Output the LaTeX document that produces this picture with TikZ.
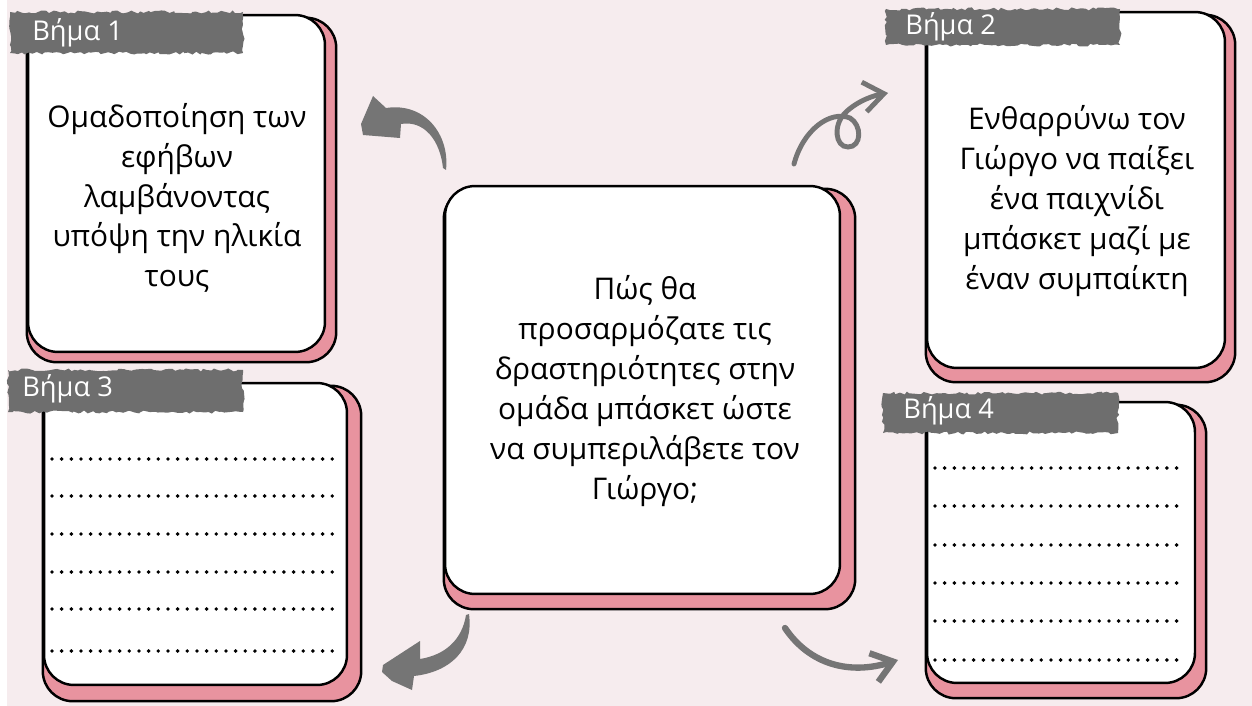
\documentclass[tikz,border=0pt]{standalone}
\usepackage{fontspec}
\setmainfont{Open Sans}
\usetikzlibrary{calc,arrows.meta,backgrounds,decorations.pathmorphing}

\definecolor{pagepink}{HTML}{F6ECEE}
\definecolor{shadowpink}{HTML}{E8939F}
\definecolor{brushgray}{HTML}{6E6E6E}
\definecolor{arrowgray}{HTML}{757575}

\tikzset{
  card/.style={draw=black, line width=1.4pt, fill=white, rounded corners=0.6cm, inner sep=0pt},
  cardshadow/.style={draw=black, line width=1.4pt, fill=shadowpink, rounded corners=0.6cm},
  cardtext/.style={align=center, font=\fontsize{17}{22.7}\selectfont},
  brush/.style={fill=brushgray, decorate, decoration={random steps, segment length=2pt, amplitude=0.9pt}},
  steplabel/.style={anchor=west, text=white, inner sep=0pt, font=\fontsize{15.5}{18}\selectfont},
  dotline/.style={line width=2.2pt, line cap=round, dash pattern=on 0pt off 5.5pt},
  fatarrow/.style={fill=arrowgray},
  thinarrow/.style={draw=arrowgray, line cap=round, -{Straight Barb[length=0.4cm, width=0.6cm]}}
}

\begin{document}
\begin{tikzpicture}[x=0.02cm, y=-0.02cm]
    \pgfmathsetseed{11}
    % page
    \useasboundingbox (0,0) rectangle (1252,706);
    \begin{scope}[on background layer]
      \fill[pagepink] (0,0) rectangle (1252,706);
      \fill[white] (0,0) rectangle (7,706);
    \end{scope}

    % the five cards
    \node[card, minimum width=5.94cm, minimum height=6.74cm] (stepone) at (176.5,183.5) {};
    \node[card, minimum width=5.96cm, minimum height=7.12cm] (steptwo) at (1076,190) {};
    \node[card, minimum width=6.06cm, minimum height=6.04cm] (stepthree) at (195.5,534) {};
    \node[card, minimum width=5.36cm, minimum height=5.62cm] (stepfour) at (1061,542.5) {};
    \node[card, minimum width=7.90cm, minimum height=8.16cm] (question) at (642.5,390) {};

    % pink shadows behind them
    \begin{scope}[on background layer]
      \draw[cardshadow] ($(stepone.north west)+(0,4)$) rectangle ($(stepone.south east)+(10,9)$);
      \draw[cardshadow] ($(steptwo.north west)+(0,4)$) rectangle ($(steptwo.south east)+(9,13)$);
      \draw[cardshadow] ($(stepthree.north west)+(0,4)$) rectangle ($(stepthree.south east)+(13,15)$);
      \draw[cardshadow] ($(stepfour.north west)+(0,4)$) rectangle ($(stepfour.south east)+(10,14)$);
      \draw[cardshadow] ($(question.north west)+(0,4)$) rectangle ($(question.south east)+(14,14)$);
    \end{scope}

    % texts
    \node[cardtext] (steponetext) at (177,198)
      {Ομαδοποίηση των\\εφήβων\\λαμβάνοντας\\υπόψη την ηλικία\\τους};
    \node[cardtext] (steptwotext) at (1077,201)
      {Ενθαρρύνω τον\\Γιώργο να παίξει\\ένα παιχνίδι\\μπάσκετ μαζί με\\έναν συμπαίκτη};
    \node[cardtext] (questiontext) at (645,391)
      {Πώς θα\\προσαρμόζατε τις\\δραστηριότητες στην\\ομάδα μπάσκετ ώστε\\να συμπεριλάβετε τον\\Γιώργο;};

    % dotted lines to write on
    \foreach \yy in {459,496,534,572,609,651}
      \draw[dotline] (52,\yy) -- (338,\yy);
    \foreach \yy in {468,506,545,583,621,660}
      \draw[dotline] (935,\yy) -- (1185,\yy);

    % brush labels
    \fill[brush] (10,12) rectangle (243,53);
    \node[steplabel] (labelone) at (32,33) {Βήμα 1};
    \fill[brush] (886,9) rectangle (1120,45);
    \node[steplabel] (labeltwo) at (905,27) {Βήμα 2};
    \fill[brush] (8,370) rectangle (243,412);
    \node[steplabel] (labelthree) at (22,389) {Βήμα 3};
    \fill[brush] (883,393) rectangle (1118,433);
    \node[steplabel] (labelfour) at (903,411) {Βήμα 4};

    % arrows
    \fill[fatarrow] (446,170) .. controls (450,135) and (425,102) .. (386,108)
      -- (373,96) -- (361,124) -- (363,135) -- (400,138) -- (401,124)
      .. controls (424,120) and (440,140) .. (443,168) -- cycle;
    \draw[thinarrow, line width=2.8pt] (794,164) .. controls (803,130) and (830,110) .. (850,118)
      .. controls (862,125) and (862,147) .. (848,147)
      .. controls (835,147) and (833,125) .. (845,113)
      .. controls (858,100) and (876,95) .. (888,93);
    \fill[fatarrow] (469,614) .. controls (474,650) and (450,672) .. (414,676)
      -- (412,690) -- (392,681) -- (382,672) -- (383,665) -- (420,641) -- (420,659)
      .. controls (445,655) and (462,640) .. (466,615) -- cycle;
    \draw[thinarrow, line width=3.6pt] (785,628) .. controls (810,665) and (850,675) .. (898,660);
\end{tikzpicture}
\end{document}
